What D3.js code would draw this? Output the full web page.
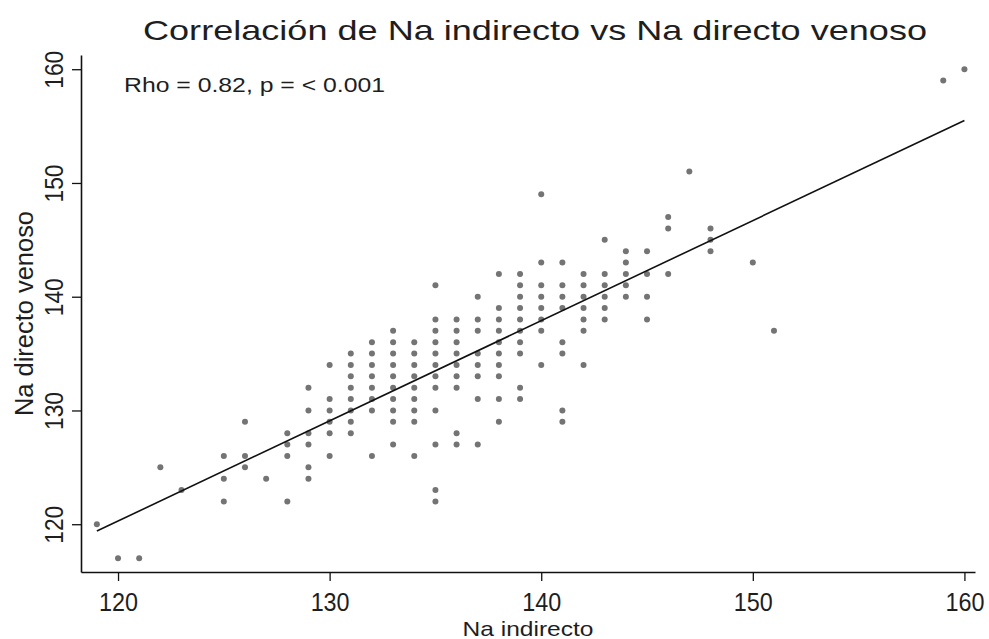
<!DOCTYPE html>
<html>
<head>
<meta charset="utf-8">
<script src="https://cdn.jsdelivr.net/npm/d3@7"></script>
<style>
  html, body { margin: 0; padding: 0; background: #ffffff; }
  svg { display: block; }
  text { font-family: "Liberation Sans", Arial, Helvetica, sans-serif; fill: #1e1e1e; }
</style>
</head>
<body>
<script>
// ---- data ----
const title = "Correlación de Na indirecto vs Na directo venoso";
const annotation = "Rho = 0.82, p = < 0.001";
const xLabel = "Na indirecto";
const yLabel = "Na directo venoso";
const xTicks = [120, 130, 140, 150, 160];
const yTicks = [120, 130, 140, 150, 160];

// paired observations: Na indirecto (x) and Na directo venoso (y)
const naIndirecto = [
  119,
  120,
  121,
  122,
  123,
  125,125,125,
  126,126,126,
  127,
  128,128,128,128,
  129,129,129,129,129,129,
  130,130,130,130,130,130,
  131,131,131,131,131,131,131,131,
  132,132,132,132,132,132,132,132,
  133,133,133,133,133,133,133,133,133,133,
  134,134,134,134,134,134,134,134,134,
  135,135,135,135,135,135,135,135,135,135,135,135,
  136,136,136,136,136,136,136,136,136,
  137,137,137,137,137,137,137,137,
  138,138,138,138,138,138,138,138,138,138,
  139,139,139,139,139,139,139,139,139,139,
  140,140,140,140,140,140,140,140,
  141,141,141,141,141,141,141,141,
  142,142,142,142,142,142,142,
  143,143,143,143,143,143,
  144,144,144,144,144,
  145,145,145,145,
  146,146,146,
  147,
  148,148,148,
  150,
  151,
  159,
  160
];
const naDirecto = [
  120,
  117,
  117,
  125,
  123,
  126,124,122,
  129,126,125,
  124,
  128,127,126,122,
  132,130,128,127,125,124,
  134,131,130,129,128,126,
  135,134,133,132,131,130,129,128,
  136,135,134,133,132,131,130,126,
  137,136,135,134,133,132,131,130,129,127,
  136,135,134,133,132,131,130,129,126,
  141,138,137,136,135,134,133,132,130,127,123,122,
  138,137,136,135,134,133,132,128,127,
  140,138,137,135,134,133,131,127,
  142,139,138,137,136,135,134,133,131,129,
  142,141,140,139,138,137,136,135,132,131,
  149,143,141,140,139,138,137,134,
  143,141,140,139,136,135,130,129,
  142,141,140,139,138,137,134,
  145,142,141,140,139,138,
  144,143,142,141,140,
  144,142,140,138,
  147,146,142,
  151,
  146,145,144,
  143,
  137,
  159,
  160
];

// fitted line, read at its two ends
const fitX = [119, 160];
const fitY = [119.4, 155.5];

// ---- drawing ----
const W = 989, H = 639;
const svg = d3.select("body").append("svg").attr("width", W).attr("height", H);
svg.append("rect").attr("width", W).attr("height", H).attr("fill", "#ffffff");

const x = d3.scaleLinear().domain([118.25, 160.5]).range([81, 975]);
const y = d3.scaleLinear().domain([115.8, 161.25]).range([572, 55]);

const points = naIndirecto.map((v, i) => ({ x: v, y: naDirecto[i] }));

// points
svg.append("g").selectAll("circle").data(points).join("circle")
  .attr("cx", d => x(d.x))
  .attr("cy", d => y(d.y))
  .attr("r", 3)
  .attr("fill", "#747474");

// fitted line
const fit = fitX.map((v, i) => [v, fitY[i]]);
svg.append("path")
  .attr("d", d3.line().x(d => x(d[0])).y(d => y(d[1]))(fit))
  .attr("fill", "none")
  .attr("stroke", "#111")
  .attr("stroke-width", 1.6);

// x axis
const gx = svg.append("g").attr("transform", `translate(0,${y.range()[0]})`)
  .call(d3.axisBottom(x).tickValues(xTicks).tickSize(9).tickSizeOuter(0));
gx.select(".domain").attr("stroke", "#111").attr("stroke-width", 1.6);
gx.selectAll(".tick line").attr("stroke", "#111").attr("stroke-width", 1.3);
gx.selectAll(".tick text")
  .attr("font-size", 25).attr("fill", "#1e1e1e")
  .attr("dy", null).attr("y", 39)
  .attr("textLength", 39).attr("lengthAdjust", "spacingAndGlyphs");

// y axis
const gy = svg.append("g").attr("transform", `translate(${x.range()[0]},0)`)
  .call(d3.axisLeft(y).tickValues(yTicks).tickSize(9).tickSizeOuter(0));
gy.select(".domain").attr("stroke", "#111").attr("stroke-width", 1.6);
gy.selectAll(".tick line").attr("stroke", "#111").attr("stroke-width", 1.3);
gy.selectAll(".tick text")
  .attr("font-size", 25).attr("fill", "#1e1e1e")
  .attr("x", null).attr("dy", null)
  .attr("text-anchor", "middle")
  .attr("transform", "translate(-18,0) rotate(-90)")
  .attr("textLength", 38).attr("lengthAdjust", "spacingAndGlyphs");

// title
svg.append("text")
  .attr("x", 143).attr("y", 40)
  .attr("font-size", 28)
  .attr("textLength", 784).attr("lengthAdjust", "spacingAndGlyphs")
  .attr("fill", "#222")
  .text(title);

// annotation
svg.append("text")
  .attr("x", 124).attr("y", 92)
  .attr("font-size", 21)
  .attr("textLength", 261).attr("lengthAdjust", "spacingAndGlyphs")
  .text(annotation);

// axis titles
svg.append("text")
  .attr("x", (x.range()[0] + x.range()[1]) / 2).attr("y", 636)
  .attr("text-anchor", "middle")
  .attr("font-size", 21)
  .attr("textLength", 131).attr("lengthAdjust", "spacingAndGlyphs")
  .text(xLabel);

svg.append("text")
  .attr("transform", `translate(33,${(y.range()[0] + y.range()[1]) / 2}) rotate(-90)`)
  .attr("text-anchor", "middle")
  .attr("font-size", 25)
  .attr("textLength", 205).attr("lengthAdjust", "spacingAndGlyphs")
  .text(yLabel);
</script>
</body>
</html>
